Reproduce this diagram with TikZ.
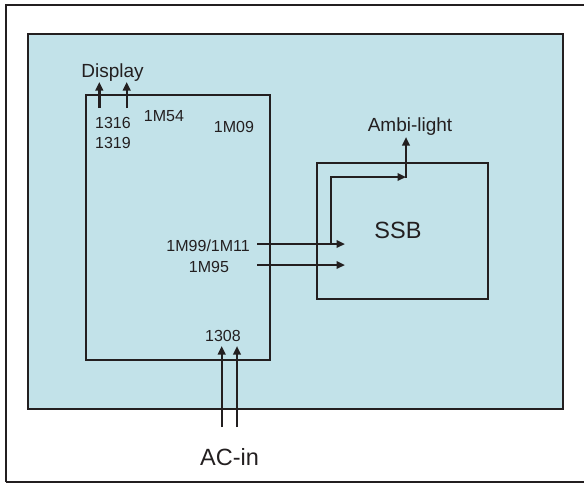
\documentclass[tikz,border=0pt]{standalone}
\usepackage{fontspec}
\setmainfont{Liberation Sans}
\usetikzlibrary{arrows.meta}
\definecolor{bgblue}{HTML}{C2E2E9}
\definecolor{ink}{HTML}{231F20}
\tikzset{
  box/.style={draw=ink, line width=2.3pt, fill=none, inner sep=0pt},
  arr/.style={draw=ink, line width=2.4pt, -{Triangle[length=8.5pt,width=7.5pt]}},
  lbl/.style={inner sep=0pt, anchor=base, text=ink, font=\fontsize{16}{19}\selectfont},
  mid/.style={inner sep=0pt, anchor=base, text=ink, font=\fontsize{19}{22}\selectfont},
  big/.style={inner sep=0pt, anchor=base, text=ink, font=\fontsize{23.5}{27}\selectfont},
}
\begin{document}
\begin{tikzpicture}[x=1pt,y=-1pt]
\useasboundingbox (0,0) rectangle (584,483);
% outer frame
\draw[ink, line width=2.3pt] (6,482) -- (6,5) -- (600,5);
\draw[ink, line width=1.4pt] (6,482) -- (600,482);
% blue field
\filldraw[fill=bgblue, draw=ink, line width=2.8pt] (28,34) rectangle (563,409);
% boxes
\node[box, minimum width=184pt, minimum height=265pt] (board) at (178,227.5) {};
\node[box, minimum width=171pt, minimum height=136pt] (ssb) at (402.5,231) {};
% labels
\node[mid] (display) at (112.5,77) {Display};
\node[lbl] (l1316) at (113,128) {1316};
\node[lbl] (l1319) at (113,148) {1319};
\node[lbl] (l1m54) at (164,121.7) {1M54};
\node[lbl] (l1m09) at (234,132.7) {1M09};
\node[lbl, anchor=base east] (l1m99) at (250,251.7) {1M99/1M11};
\node[lbl] (l1m95) at (209,272.3) {1M95};
\node[lbl] (l1308) at (223,341.7) {1308};
\node[big] (acin) at (229.5,465) {AC-in};
\node[mid] (ambi) at (410,131.7) {Ambi-light};
\node[big] (ssbt) at (398,238.3) {SSB};
% coordinates
\coordinate (d1a) at (99.3,108);  \coordinate (d1b) at (99.3,82);
\coordinate (d2a) at (126.7,108); \coordinate (d2b) at (126.7,82);
\coordinate (a1a) at (221.7,427); \coordinate (a1b) at (221.7,346);
\coordinate (a2a) at (237,427);   \coordinate (a2b) at (237,346);
\coordinate (m99a) at (257,244);  \coordinate (m99b) at (345,244);
\coordinate (m95a) at (257,265);  \coordinate (m95b) at (345,265);
\coordinate (la) at (331,244);    \coordinate (lb) at (406,177);
\coordinate (ua) at (406,178);    \coordinate (ub) at (406,137);
% connectors
\draw[arr] (d1a) -- (d1b);
\draw[arr] (d2a) -- (d2b);
\draw[arr] (a1a) -- (a1b);
\draw[arr] (a2a) -- (a2b);
\draw[arr] (m99a) -- (m99b);
\draw[arr] (m95a) -- (m95b);
\draw[arr] (la) |- (lb);
\draw[arr] (ua) -- (ub);
\end{tikzpicture}
\end{document}
